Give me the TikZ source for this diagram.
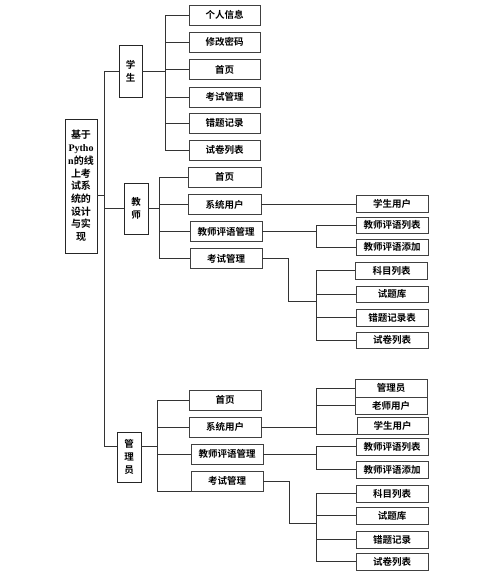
\documentclass[tikz,border=0pt]{standalone}
\usepackage{fontspec}
\setmainfont{Liberation Serif}
\newfontfamily\cjk{Noto Sans CJK SC}[BoldFont=* Bold]

\tikzset{
  leaf/.style={draw=black!75, line width=0.9pt, minimum width=72pt, minimum height=20pt,
    inner sep=0pt, font=\cjk\bfseries\fontsize{9.5}{11}\selectfont},
  subleaf/.style={leaf, minimum height=17pt},
  role/.style={draw=black!85, line width=0.9pt, inner sep=0pt, align=center,
    font=\cjk\bfseries\fontsize{9.5}{13.5}\selectfont},
  link/.style={draw=black!80, line width=0.8pt}
}

\begin{document}
\begin{tikzpicture}[x=1pt,y=-1pt]
\useasboundingbox (0,0) rectangle (481,576);

% root and roles
\node[role, minimum width=32pt, minimum height=134pt, font=\cjk\bfseries\fontsize{10}{12.7}\selectfont]
  (root) at (81,186) {基于\\{\rmfamily\bfseries Pytho}\\{\rmfamily\bfseries n}的线\\上考\\试系\\统的\\设计\\与实\\现};
\node[role, minimum width=23pt, minimum height=52pt] (stu) at (130.5,71) {学\\生};
\node[role, minimum width=24pt, minimum height=51pt] (tea) at (136,208.5) {教\\师};
\node[role, minimum width=24pt, minimum height=50pt, font=\cjk\bfseries\fontsize{9.5}{13}\selectfont]
  (adm) at (129,457) {管\\理\\员};

% student
\node[leaf, minimum width=71pt] (s1) at (224.5,15) {个人信息};
\node[leaf, minimum width=71pt] (s2) at (224.5,42) {修改密码};
\node[leaf, minimum width=71pt] (s3) at (224.5,69.5) {首页};
\node[leaf, minimum width=71pt] (s4) at (224.5,97) {考试管理};
\node[leaf, minimum width=71pt] (s5) at (224.5,123) {错题记录};
\node[leaf, minimum width=71pt] (s6) at (224.5,150) {试卷列表};

% teacher
\node[leaf, minimum width=73pt] (t1) at (224.5,177) {首页};
\node[leaf, minimum width=73pt] (t2) at (224.5,204.5) {系统用户};
\node[leaf] (t3) at (226,231.5) {教师评语管理};
\node[leaf] (t4) at (226,258.5) {考试管理};

\node[subleaf] (r1) at (392,203.5) {学生用户};
\node[subleaf, minimum height=16pt] (r2) at (392,225) {教师评语列表};
\node[subleaf, minimum height=16pt] (r3) at (392,247) {教师评语添加};
\node[subleaf] (r4) at (391.5,270.5) {科目列表};
\node[subleaf, minimum height=16pt] (r5) at (392,294) {试题库};
\node[subleaf] (r6) at (392,317.5) {错题记录表};
\node[subleaf, minimum height=16pt] (r7) at (392,340) {试卷列表};

% admin
\node[leaf] (a1) at (225,400) {首页};
\node[leaf] (a2) at (225,427) {系统用户};
\node[leaf] (a3) at (227,454) {教师评语管理};
\node[leaf] (a4) at (227,481) {考试管理};

\node[subleaf, minimum height=18pt] (q1) at (391,388) {管理员};
\node[subleaf] (q2) at (391,405.5) {老师用户};
\node[subleaf, minimum width=71pt] (q3) at (392.5,425.5) {学生用户};
\node[subleaf] (q4) at (392,446.5) {教师评语列表};
\node[subleaf] (q5) at (392,469.5) {教师评语添加};
\node[subleaf] (q6) at (392,493.5) {科目列表};
\node[subleaf] (q7) at (392,515.5) {试题库};
\node[subleaf] (q8) at (392,539.5) {错题记录};
\node[subleaf] (q9) at (392,561.5) {试卷列表};

% bus lines
\coordinate (tk) at (104,0);
\coordinate (sb) at (165,0);
\coordinate (tb) at (159,0);
\coordinate (ab) at (157,0);
\coordinate (rb) at (316,0);
\coordinate (tj) at (288,301);
\coordinate (aj) at (289,523);

\draw[link] ([yshift=-9pt]root.east) -- ([yshift=-9pt]root.east -| tk);
\draw[link] (stu.west) -- (stu.west -| tk) -- ([yshift=11pt]adm.west -| tk) -- ([yshift=11pt]adm.west);
\draw[link] (tea.west) -- (tea.west -| tk);

\draw[link] (stu.east) -- (stu.east -| sb);
\draw[link] (s1.west) -- (s1.west -| sb) -- (s6.west -| sb) -- (s6.west);
\foreach \n in {s2,s3,s4,s5}
  \draw[link] (\n.west) -- (\n.west -| sb);

\draw[link] (tea.east) -- (tea.east -| tb);
\draw[link] (t1.west) -- (t1.west -| tb) -- (t4.west -| tb) -- (t4.west);
\foreach \n in {t2,t3}
  \draw[link] (\n.west) -- (\n.west -| tb);

\draw[link] (t2.east) -- (t2.east -| r1.west);
\draw[link] (t3.east) -- (t3.east -| rb);
\draw[link] (r2.west) -- (r2.west -| rb) -- (r3.west -| rb) -- (r3.west);
\draw[link] (t4.east) -| (tj) -- (tj -| rb);
\draw[link] (r4.west) -- (r4.west -| rb) -- (r7.west -| rb) -- (r7.west);
\foreach \n in {r5,r6}
  \draw[link] (\n.west) -- (\n.west -| rb);

\draw[link] ([yshift=11pt]adm.east) -- ([yshift=11pt]adm.east -| ab);
\draw[link] (a1.west) -- (a1.west -| ab) -- (a4.south west -| ab) -- (a4.south west);
\foreach \n in {a2,a3}
  \draw[link] (\n.west) -- (\n.west -| ab);

\draw[link] (a2.east) -- (a2.east -| rb);
\draw[link] (q1.west) -- (q1.west -| rb) -- (q3.south west -| rb) -- (q3.south west);
\draw[link] (q2.west) -- (q2.west -| rb);
\draw[link] (a3.east) -- (a3.east -| rb);
\draw[link] (q4.west) -- (q4.west -| rb) -- (q5.west -| rb) -- (q5.west);
\draw[link] (a4.east) -| (aj) -- (aj -| rb);
\draw[link] (q6.west) -- (q6.west -| rb) -- (q9.west -| rb) -- (q9.west);
\foreach \n in {q7,q8}
  \draw[link] (\n.west) -- (\n.west -| rb);
\end{tikzpicture}
\end{document}
